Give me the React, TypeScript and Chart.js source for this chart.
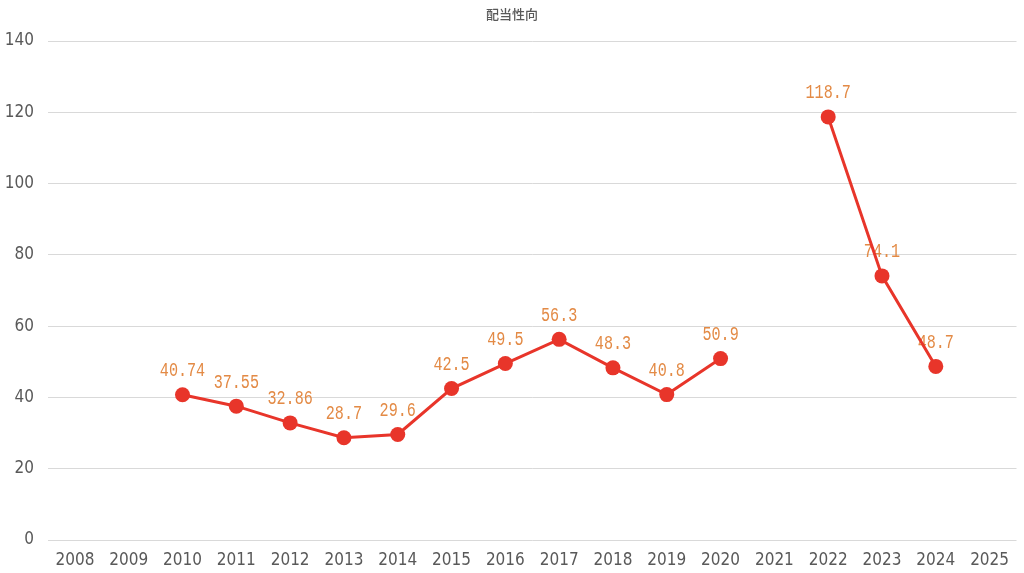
import React, { useEffect, useRef } from "react";
import { Chart, registerables } from "chart.js";

Chart.register(...registerables);

const title = "配当性向";
const years = ["2008","2009","2010","2011","2012","2013","2014","2015","2016","2017","2018","2019","2020","2021","2022","2023","2024","2025"];
const payout = [null, null, 40.74, 37.55, 32.86, 28.7, 29.6, 42.5, 49.5, 56.3, 48.3, 40.8, 50.9, null, 118.7, 74.1, 48.7, null];
const yTicks = { min: 0, max: 140, step: 20 };

const LINE = "#e8352a";
const LABEL = "#e38a45";
const TEXT = "#595959";
const TICK_FONT = "'DejaVu Sans Condensed', 'DejaVu Sans', sans-serif";

const labelPlugin = {
  id: "pointLabels",
  beforeDatasetsDraw(chart: any) {
    const ctx = chart.ctx;
    const meta = chart.getDatasetMeta(0);
    ctx.save();
    ctx.fillStyle = LABEL;
    ctx.font = "21px 'Liberation Mono'";
    ctx.textAlign = "center";
    ctx.textBaseline = "middle";
    meta.data.forEach((pt: any, i: number) => {
      const v = payout[i];
      if (v === null || v === undefined) return;
      ctx.save();
      ctx.translate(pt.x, pt.y - 24);
      ctx.scale(0.72, 1);
      ctx.fillText(String(v), 0, 0);
      ctx.restore();
    });
    ctx.restore();
  },
  afterDraw(chart: any) {
    const ctx = chart.ctx;
    ctx.save();
    ctx.fillStyle = TEXT;
    ctx.font = "500 13px 'Noto Sans CJK JP'";
    ctx.textAlign = "center";
    ctx.textBaseline = "middle";
    ctx.fillText(title, 512, 14);
    ctx.restore();
  },
};

export default function App() {
  const ref = useRef<HTMLCanvasElement>(null);
  useEffect(() => {
    if (!ref.current) return;
    const chart = new Chart(ref.current, {
      type: "line",
      data: {
        labels: years,
        datasets: [
          {
            data: payout as any,
            borderColor: LINE,
            backgroundColor: LINE,
            borderWidth: 3,
            pointRadius: 7.5,
            pointBackgroundColor: LINE,
            pointBorderColor: LINE,
            pointBorderWidth: 0,
            spanGaps: false,
            tension: 0,
          },
        ],
      },
      options: {
        animation: false,
        responsive: false,
        maintainAspectRatio: false,
        layout: { padding: { top: 41, right: 0, left: 0, bottom: 0 } },
        plugins: { legend: { display: false }, tooltip: { enabled: false }, title: { display: false } },
        scales: {
          x: {
            type: "category",
            offset: true,
            grid: { display: false },
            border: { display: false },
            ticks: { color: TEXT, font: { family: TICK_FONT, size: 17 }, padding: 2, maxRotation: 0, autoSkip: false },
            afterFit(scale: any) { scale.height = 33; },
          },
          y: {
            min: yTicks.min,
            max: yTicks.max,
            grid: { color: "#d9d9d9", drawTicks: false, lineWidth: 1 },
            border: { display: false },
            ticks: { stepSize: yTicks.step, color: TEXT, font: { family: TICK_FONT, size: 17 }, padding: 14 },
            afterFit(scale: any) { scale.width = 48; },
          },
        },
      },
      plugins: [labelPlugin],
    });
    return () => chart.destroy();
  }, []);
  return (
    <div style={{ position: "absolute", left: 0, top: 0, width: 1024, height: 573, background: "#fff" }}>
      <canvas ref={ref} width={1024} height={573} style={{ width: 1024, height: 573, display: "block" }} />
    </div>
  );
}
